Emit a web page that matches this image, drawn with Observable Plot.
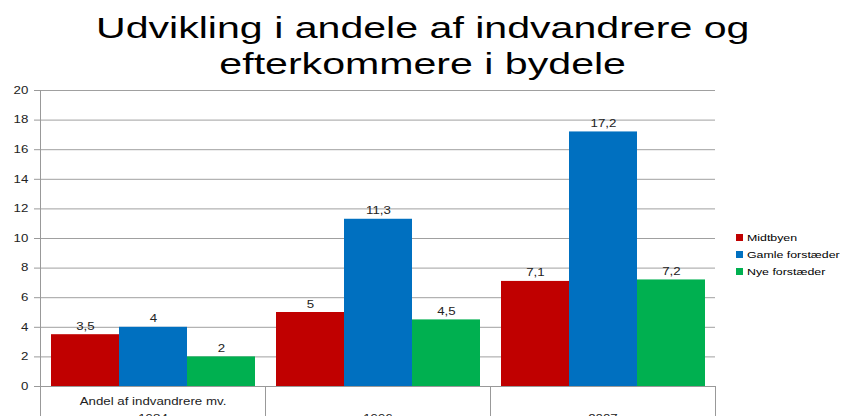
<!DOCTYPE html>
<html>
<head>
<meta charset="utf-8">
<script src="https://cdn.jsdelivr.net/npm/d3@7"></script>
<script src="https://cdn.jsdelivr.net/npm/@observablehq/plot@0.6"></script>
<style>
  html, body { margin: 0; padding: 0; background: #fff; }
  body { width: 845px; height: 416px; overflow: hidden; position: relative; font-family: "Liberation Sans", Arial, sans-serif; }
  #title { height: 82px; box-sizing: border-box; padding-top: 10px; text-align: center; font-size: 30px; line-height: 36px; color: #000; }
  #title div { transform: scaleX(1.37); transform-origin: 422px 0; white-space: nowrap; }
  #legend { position: absolute; left: 736px; top: 229px; font-size: 9.5px; color: #000; }
  #legend div { height: 17px; line-height: 17px; display: flex; align-items: center; }
  #legend span.sw { display: inline-block; width: 7px; height: 7px; margin-right: 4px; }
  #legend span.tx { display: inline-block; transform: scaleX(1.3); transform-origin: 0 50%; white-space: nowrap; }
  svg { display: block; }
</style>
</head>
<body>
<div id="title"><div>Udvikling i andele af indvandrere og</div><div>efterkommere i bydele</div></div>
<div id="chart"></div>
<div id="legend"></div>
<script>
const years = ["1984", "1996", "2007"];
const yearLabels = ["Andel af indvandrere mv.\n1984", "\n1996", "\n2007"];
const series = ["Midtbyen", "Gamle forstæder", "Nye forstæder"];
const colors = ["#C00000", "#0070C0", "#00B050"];
const midtbyen = [3.5, 5, 7.1];
const gamle = [4, 11.3, 17.2];
const nye = [2, 4.5, 7.2];
const yTicks = [0, 2, 4, 6, 8, 10, 12, 14, 16, 18, 20];

const values = [midtbyen, gamle, nye];
const data = [];
years.forEach((yr, i) => {
  series.forEach((s, j) => data.push({year: yr, series: s, value: values[j][i]}));
});
const labelData = years.map((yr, i) => ({year: yr, label: yearLabels[i]}));
const fmt = v => String(v).replace(".", ",");

const chart = Plot.plot({
  width: 845,
  height: 334,
  marginTop: 8,
  marginBottom: 30,
  marginLeft: 40,
  marginRight: 130,
  style: {fontFamily: "'Liberation Sans', Arial, sans-serif", fontSize: "10px", color: "#222", background: "#fff"},
  fx: {domain: years, paddingInner: 0, paddingOuter: 0, axis: null},
  x: {domain: series, paddingInner: 0, paddingOuter: 0.135, axis: null},
  y: {domain: [0, 20], ticks: yTicks, label: null},
  color: {domain: series, range: colors},
  marks: [
    Plot.gridY(yTicks, {stroke: "#a0a0a0", strokeOpacity: 1, facet: "exclude"}),
    Plot.axisY(yTicks, {tickSize: 6, tickPadding: 6, stroke: "#999", fill: "#222", fontSize: 10, label: null, tickFormat: d => String(d)}),
    Plot.barY(data, {fx: "year", x: "series", y: "value", fill: "series"}),
    Plot.text(data, {fx: "year", x: "series", y: "value", text: d => fmt(d.value), lineAnchor: "bottom", dy: -5, fill: "#222", fontSize: 10}),
    Plot.text(labelData, {fx: "year", text: "label", frameAnchor: "bottom", lineAnchor: "top", dy: 7, lineHeight: 1.65, fill: "#222", fontSize: 10})
  ]
});
document.getElementById("chart").appendChild(chart);

// axis lines and category separators using the chart's own scales
const fx = chart.scale("fx");
const y = chart.scale("y");
const svg = d3.select(chart);
const y0 = y.apply(0);
const yTop = y.apply(20);
const g = svg.append("g").attr("stroke", "#999").attr("stroke-width", 1).attr("shape-rendering", "crispEdges");
const left = fx.apply(years[0]);
const right = fx.apply(years[years.length - 1]) + fx.bandwidth;
g.append("line").attr("x1", left).attr("x2", right).attr("y1", y0).attr("y2", y0);
g.append("line").attr("x1", left).attr("x2", left).attr("y1", yTop).attr("y2", 334);
years.forEach(yr => {
  const xe = fx.apply(yr) + fx.bandwidth;
  g.append("line").attr("x1", xe).attr("x2", xe).attr("y1", y0).attr("y2", 334);
});

// the reference's lettering is horizontally wide: stretch each text about its anchor
const S = 1.33;
svg.selectAll("text").each(function() {
  const bb = this.getBBox();
  const anchor = getComputedStyle(this).textAnchor;
  const cx = anchor === "end" ? bb.x + bb.width : anchor === "start" ? bb.x : bb.x + bb.width / 2;
  const t = this.getAttribute("transform") || "";
  this.setAttribute("transform", `${t} translate(${cx},0) scale(${S},1) translate(${-cx},0)`);
});

const legend = document.getElementById("legend");
series.forEach((s, i) => {
  const row = document.createElement("div");
  row.innerHTML = `<span class="sw" style="background:${colors[i]}"></span><span class="tx">${s}</span>`;
  legend.appendChild(row);
});
</script>
</body>
</html>
